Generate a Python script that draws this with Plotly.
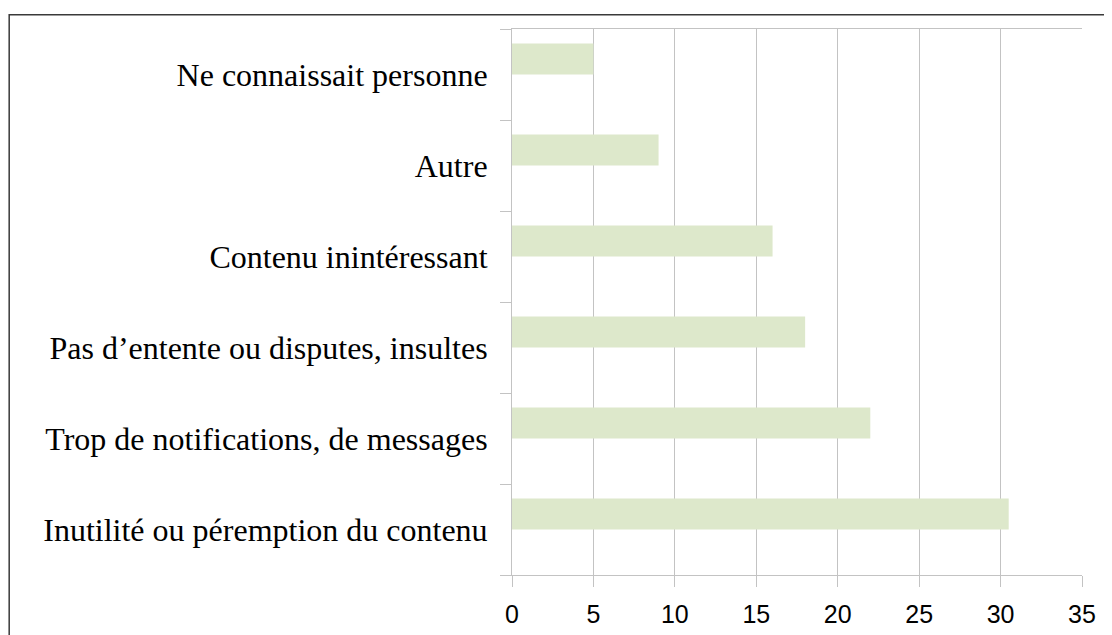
import plotly.graph_objects as go

categories = [
    "Inutilité ou péremption du contenu",
    "Trop de notifications, de messages",
    "Pas d’entente ou disputes, insultes",
    "Contenu inintéressant",
    "Autre",
    "Ne connaissait personne",
]
values = [30.5, 22, 18, 16, 9, 5]
x_ticks = [0, 5, 10, 15, 20, 25, 30, 35]

# page body has an 8px margin, so the figure is placed at (8, 8)
OFF = 8
W, H = 1112 - OFF, 635 - OFF
L, R, T, B = 512 - OFF, 29.5, 29 - OFF, 60
pw = W - L - R
ph = H - T - B

fig = go.Figure()
fig.add_trace(go.Bar(
    y=categories, x=values, orientation="h",
    marker=dict(color="#DDE8CB", line=dict(width=0)),
    width=0.34, offset=0,
    hoverinfo="x+y",
))

grid = "#c3c3c3"
fig.update_layout(
    width=W, height=H,
    margin=dict(l=L, r=R, t=T, b=B, autoexpand=False),
    paper_bgcolor="white", plot_bgcolor="white",
    showlegend=False,
    xaxis=dict(
        range=[0, 35], tickvals=x_ticks, ticktext=[str(v) for v in x_ticks],
        showgrid=True, gridcolor=grid, gridwidth=1,
        showline=True, linecolor=grid, linewidth=1, mirror=True,
        ticks="outside", ticklen=11, tickcolor=grid, tickwidth=1,
        tickfont=dict(family="Liberation Sans, Arial, sans-serif", size=25, color="#000"),
        ticklabelstandoff=6,
        zeroline=False, fixedrange=True,
    ),
    yaxis=dict(
        type="category", categoryorder="array", categoryarray=categories,
        range=[-0.5, 5.5],
        showgrid=False, zeroline=False,
        showline=True, linecolor=grid, linewidth=1,
        ticks="outside", tickson="boundaries", ticklen=11, tickcolor=grid, tickwidth=1,
        tickfont=dict(family="Liberation Serif, Times New Roman, serif", size=32, color="#000"),
        ticklabelstandoff=17,
        fixedrange=True,
    ),
    shapes=[dict(
        type="rect", xref="paper", yref="paper",
        x0=(0.75 - L) / pw, x1=(W + 20 - L) / pw,
        y0=-(B + 20) / ph, y1=1 + (T - 6.75) / ph,
        line=dict(color="#3a3a3a", width=1.5), layer="above",
    )],
)

fig.write_html("out.html")
